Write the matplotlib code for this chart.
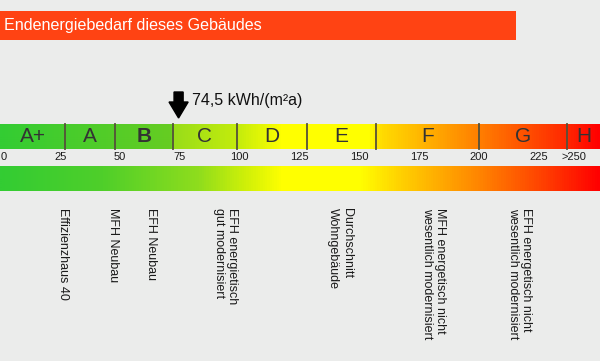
import matplotlib
matplotlib.use("Agg")
import matplotlib.pyplot as plt
import numpy as np
from matplotlib.colors import LinearSegmentedColormap
from matplotlib.patches import Rectangle, FancyArrow

plt.rcParams['font.family'] = ['Liberation Sans', 'DejaVu Sans']

# ---------------- data ----------------
title = "Endenergiebedarf dieses Gebäudes"
value = 74.5
value_label = "74,5 kWh/(m²a)"

class_names = ["A+", "A", "B", "C", "D", "E", "F", "G", "H"]
class_bounds = [27, 48, 72, 99, 128, 157, 200, 237]   # (axis units)
highlight_class = "B"

tick_values = [0, 25, 50, 75, 100, 125, 150, 175, 200, 225, 240]
tick_labels = ["0", "25", "50", "75", "100", "125", "150", "175", "200", "225", ">250"]

ref_positions = [26, 47, 63, 94, 142, 181, 217]
ref_labels = [
    "Effizienzhaus 40",
    "MFH Neubau",
    "EFH Neubau",
    "EFH energietisch\ngut modernisiert",
    "Durchschnitt\nWohngebäude",
    "MFH energetisch nicht\nwesentlich modernisiert",
    "EFH energetisch nicht\nwesentlich modernisiert",
]

# ---------------- layout ----------------
W, H = 600, 361
XMIN, XMAX = -0.17, 250.7
BG = "#ebeceb"

fig = plt.figure(figsize=(W / 100, H / 100), dpi=100, facecolor=BG)
ax = fig.add_axes([0, 0, 1, 1])
ax.set_facecolor(BG)
ax.set_xlim(XMIN, XMAX)
ax.set_ylim(H, 0)
ax.axis("off")

def frac(v):
    return (v - XMIN) / (XMAX - XMIN)

# title bar
ax.add_patch(Rectangle((0, 11), 516 / 600, 29, transform=ax.get_yaxis_transform(),
                       facecolor="#ff4313", edgecolor="none"))
ax.text(4 / 600, 25.5, title, transform=ax.get_yaxis_transform(), color="white",
        fontsize=11.6, va="center", ha="left")

# gradients
b = class_bounds
upper_cmap = LinearSegmentedColormap.from_list("upper", [
    (0.0, "#33cc33"),
    (frac(b[2]) - 0.002, "#66cc22"),
    (frac(b[2]) + 0.002, "#99dd1a"),
    (frac(b[3]), "#c4ec0c"),
    (0.47, "#ffff00"),
    (frac(b[5]) - 0.01, "#ffff00"),
    (frac(b[5]) + 0.01, "#ffdc00"),
    (frac(b[6]), "#ff8000"),
    (frac(b[7]), "#ff2800"),
    (1.0, "#ff0000"),
])
lower_cmap = LinearSegmentedColormap.from_list("lower", [
    (0.0, "#33cc33"),
    (0.17, "#4fcf2a"),
    (0.33, "#8fdd1d"),
    (0.40, "#c8ee0a"),
    (0.47, "#ffff00"),
    (0.60, "#ffff00"),
    (0.67, "#ffd000"),
    (0.80, "#ff8500"),
    (0.90, "#ff4500"),
    (1.0, "#ff0000"),
])
grad = np.linspace(0, 1, 600).reshape(1, -1)
ax.imshow(grad, cmap=upper_cmap, extent=(XMIN, XMAX, 149, 124), aspect="auto",
          interpolation="bilinear", zorder=1)
ax.imshow(grad, cmap=lower_cmap, extent=(XMIN, XMAX, 191, 166), aspect="auto",
          interpolation="bilinear", zorder=1)

# class separators and labels
for x in class_bounds:
    ax.plot([x, x], [124, 149], color="#55513a", lw=1.3, zorder=3)
edges = [XMIN] + class_bounds + [XMAX]
for name, l, r in zip(class_names, edges[:-1], edges[1:]):
    ax.text((l + r) / 2, 137, name, ha="center", va="center", fontsize=15,
            color="#333333", fontweight="bold" if name == highlight_class else "normal",
            zorder=4)

# ticks
for i, (v, lab) in enumerate(zip(tick_values, tick_labels)):
    ax.text(max(v, XMIN), 157.5, lab, ha="left" if i == 0 else "center", va="center",
            fontsize=8, color="#1a1a1a")

# arrow and value label
ax.add_patch(FancyArrow(value, 92, 0, 26, width=3.8, head_width=8.0, head_length=16,
                        length_includes_head=True, color="black", zorder=5))
ax.annotate(value_label, xy=(value, 101), xytext=(10, 0), textcoords="offset points",
            ha="left", va="center", fontsize=11.5, color="#111111")

# reference labels
for v, lab in zip(ref_positions, ref_labels):
    ax.text(v, 208, lab, rotation=-90, ha="center", va="top", fontsize=9,
            color="#1a1a1a", multialignment="left", linespacing=1.15)

fig.savefig("out.png", dpi=100, facecolor=BG)
